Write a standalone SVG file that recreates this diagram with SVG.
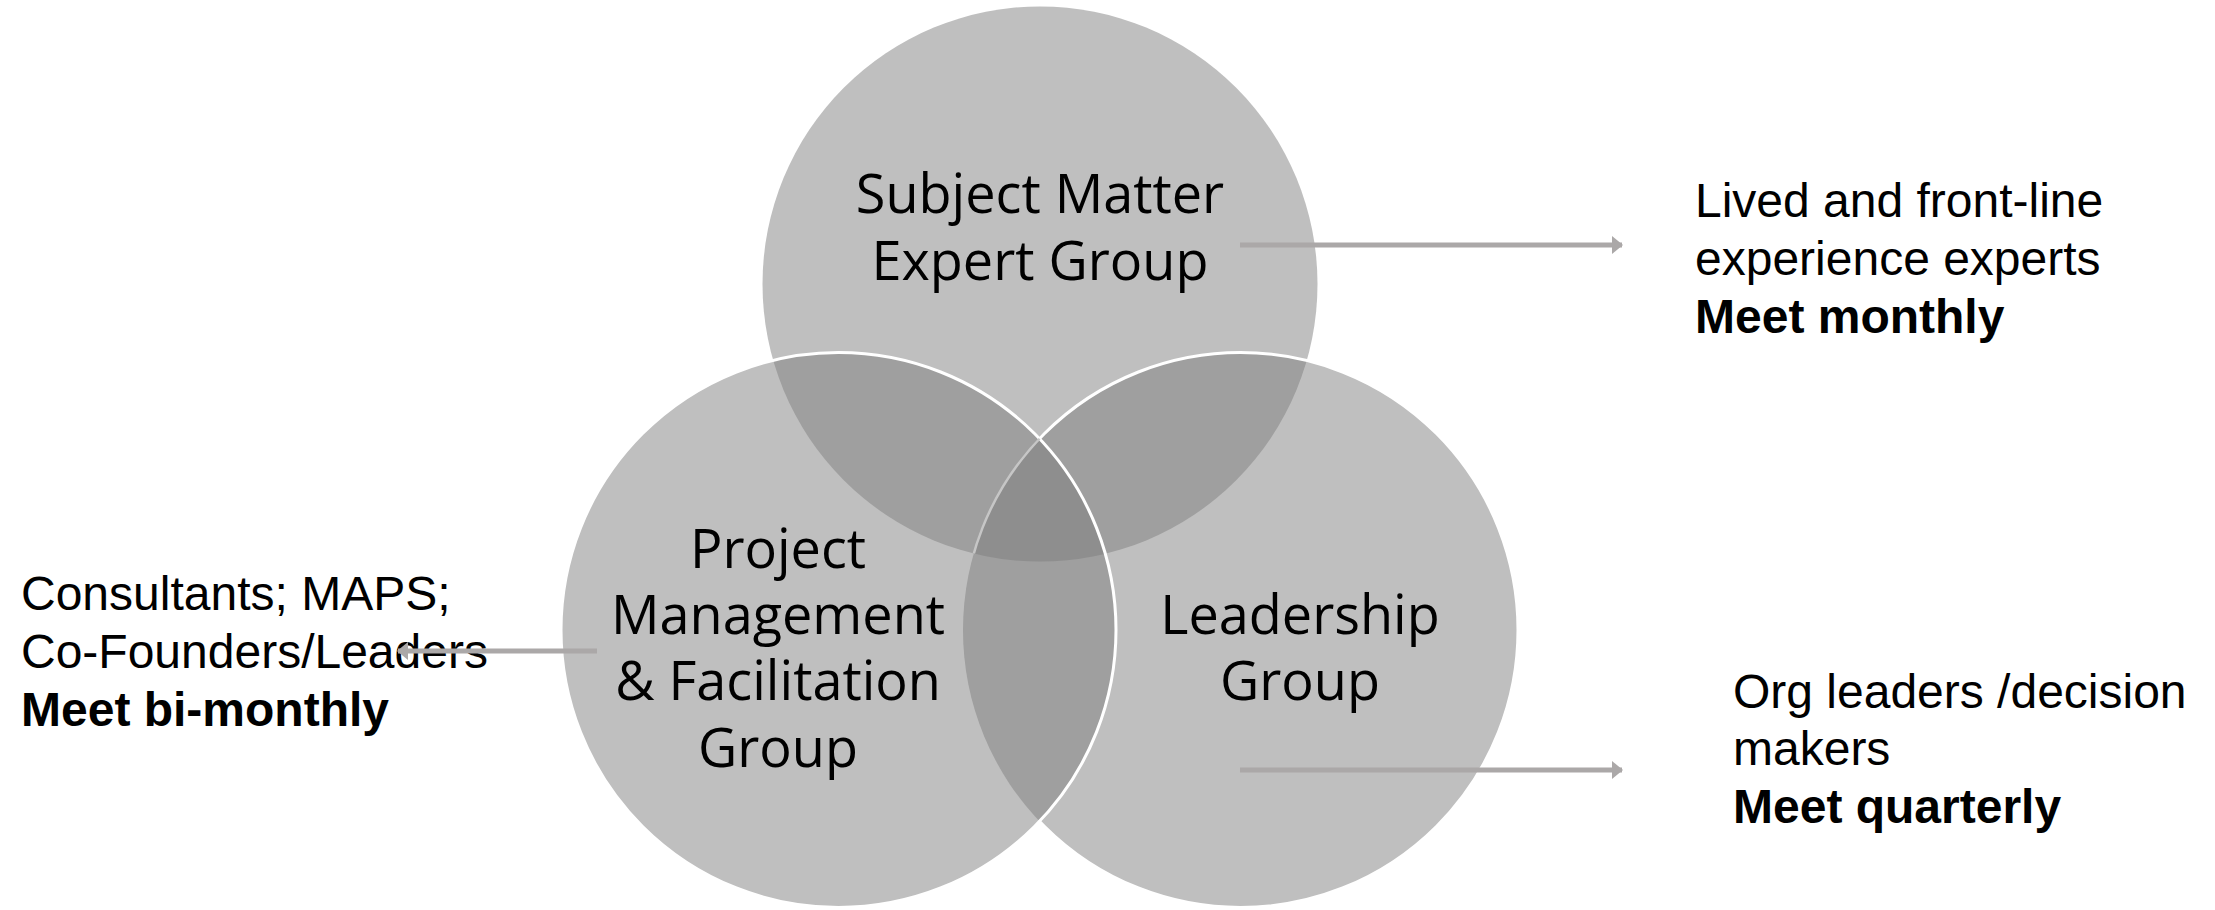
<svg xmlns="http://www.w3.org/2000/svg" width="2215" height="910" viewBox="0 0 2215 910">
<style>
.lbl{font-family:"Open Sans","DejaVu Sans",sans-serif;font-size:54px;fill:#000;text-anchor:middle}
.side{font-family:"Liberation Sans",Arial,sans-serif;font-size:48px;fill:#000}
.b{font-weight:bold}
.conn{stroke:#aba8a8;stroke-width:5;fill:none}
</style>
<defs>
<clipPath id="cT"><circle cx="1040" cy="284" r="277.5"/></clipPath>
<clipPath id="cL"><circle cx="838.5" cy="630" r="277.5"/></clipPath>
<clipPath id="cR"><circle cx="1240.5" cy="630" r="277.5"/></clipPath>
<mask id="mOutL">
<rect x="0" y="0" width="2215" height="910" fill="#fff"/>
<circle cx="838.5" cy="630" r="277.5" fill="#000"/>
</mask>
<marker id="ah" markerUnits="userSpaceOnUse" markerWidth="12" markerHeight="18" refX="10" refY="9" orient="auto">
<path d="M0,0 L11,9 L0,18 Z" fill="#aba8a8"/>
</marker>
</defs>
<rect width="2215" height="910" fill="#fff"/>
<g id="shapes">
<circle cx="1040" cy="284" r="277.5" fill="#bfbfbf"/>
<circle cx="838.5" cy="630" r="277.5" fill="#bfbfbf"/>
<circle cx="1240.5" cy="630" r="277.5" fill="#bfbfbf"/>
<g clip-path="url(#cT)"><circle cx="838.5" cy="630" r="277.5" fill="#9f9f9f"/></g>
<g clip-path="url(#cT)"><circle cx="1240.5" cy="630" r="277.5" fill="#9f9f9f"/></g>
<g clip-path="url(#cL)"><circle cx="1240.5" cy="630" r="277.5" fill="#9f9f9f"/></g>
<g clip-path="url(#cL)"><g clip-path="url(#cR)"><circle cx="1040" cy="284" r="277.5" fill="#8e8e8e"/></g></g>
<circle cx="838.5" cy="630" r="277.5" fill="none" stroke="#fff" stroke-width="3"/>
<g mask="url(#mOutL)"><circle cx="1240.5" cy="630" r="277.5" fill="none" stroke="#fff" stroke-width="3"/></g>
<g clip-path="url(#cL)"><g clip-path="url(#cT)"><circle cx="1240.5" cy="630" r="277.5" fill="none" stroke="#c6c6c6" stroke-width="2.5"/></g></g>
</g>
<g id="node-sme">
<text class="lbl" x="1040" y="213">Subject Matter</text>
<text class="lbl" x="1040" y="280">Expert Group</text>
</g>
<g id="node-pm">
<text class="lbl" x="778" y="568">Project</text>
<text class="lbl" x="778" y="634">Management</text>
<text class="lbl" x="778" y="700">&amp; Facilitation</text>
<text class="lbl" x="778" y="767">Group</text>
</g>
<g id="node-lead">
<text class="lbl" x="1300" y="634">Leadership</text>
<text class="lbl" x="1300" y="700">Group</text>
</g>
<g id="note-sme">
<text class="side" x="1695" y="217">Lived and front-line</text>
<text class="side" x="1695" y="275">experience experts</text>
<text class="side b" x="1695" y="333">Meet monthly</text>
</g>
<g id="note-lead">
<text class="side" x="1733" y="708">Org leaders /decision</text>
<text class="side" x="1733" y="765">makers</text>
<text class="side b" x="1733" y="823">Meet quarterly</text>
</g>
<g id="note-pm">
<text class="side" x="21" y="610">Consultants; MAPS;</text>
<text class="side" x="21" y="668">Co-Founders/Leaders</text>
<text class="side b" x="21" y="726">Meet bi-monthly</text>
</g>
<g id="connectors">
<line class="conn" x1="1240" y1="245" x2="1622" y2="245" marker-end="url(#ah)"/>
<line class="conn" x1="1240" y1="770" x2="1622" y2="770" marker-end="url(#ah)"/>
<line class="conn" x1="597" y1="651" x2="398" y2="651" marker-end="url(#ah)"/>
</g>
</svg>
